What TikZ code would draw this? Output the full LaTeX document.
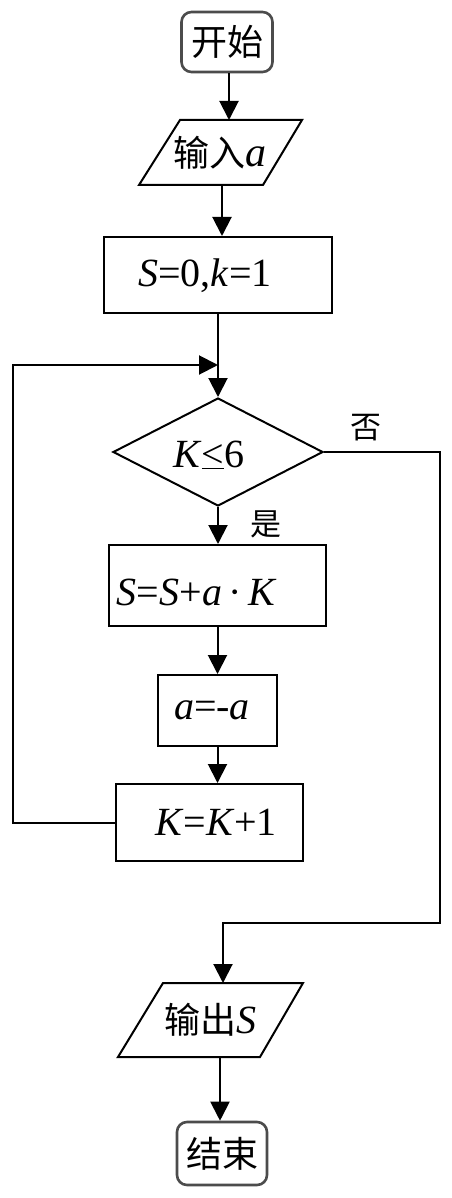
\documentclass[tikz,border=0pt]{standalone}
\usepackage{fontspec}
\setmainfont{Liberation Serif}
\newfontfamily\cjk{Noto Sans CJK SC}
\newcommand\myvar[1]{{\rmfamily\itshape #1}}
\usetikzlibrary{arrows.meta,shapes.geometric}
\begin{document}
\begin{tikzpicture}[x=1pt,y=-1pt,
  line width=2pt,
  arr/.style={-{Triangle[width=19pt,length=19pt]}},
  box/.style={draw, rectangle, inner sep=0pt},
  term/.style={draw=black!70, line width=2.6pt, rounded corners=10pt, rectangle, inner sep=0pt},
  txt/.style={inner sep=0pt, font=\fontsize{40}{44}\selectfont},
  cjktxt/.style={inner sep=0pt, font=\cjk\fontsize{36}{40}\selectfont},
  lbl/.style={inner sep=0pt, font=\cjk\fontsize{31}{34}\selectfont}]
\useasboundingbox (0,0) rectangle (451,1198);
\fill[white] (0,0) rectangle (451,1198);

% start
\node[term, minimum width=91pt, minimum height=60pt] (start) at (227,42) {};
\node[cjktxt] (starttxt) at (start.center) {开始};

% input parallelogram
\coordinate (inTL) at (180,120);
\coordinate (inTR) at (302,120);
\coordinate (inBR) at (263,185);
\coordinate (inBL) at (139,185);
\draw (inTL) -- (inTR) -- (inBR) -- (inBL) -- cycle;
\node[cjktxt] (intxt) at (220,153) {输入\myvar{\fontsize{42}{44}\selectfont a}};

% S=0,k=1
\node[box, minimum width=228pt, minimum height=76pt] (init) at (218,275) {};
\node[txt] (inittxt) at (205,276) {\textit{S}=0,\textit{k}=1};

% decision
\node[draw, diamond, inner sep=0pt, minimum width=210pt, minimum height=108pt] (dec) at (218,452) {};
\node[txt] (dectxt) at (209,455) {\textit{K}\underline{<}6};

% S=S+a·K
\node[box, minimum width=217pt, minimum height=81pt] (upd) at (217.5,585.5) {};
\node[txt] (updtxt) at (197,592) {\textit{S}=\textit{S}+\textit{a}\,·\,\textit{K}};

% a=-a
\node[box, minimum width=119pt, minimum height=71pt] (neg) at (217.5,710.5) {};
\node[txt] (negtxt) at (212,710) {\textit{a}=-\textit{a}};

% K=K+1
\node[box, minimum width=187pt, minimum height=77pt] (inc) at (209.5,822.5) {};
\node[txt] (inctxt) at (216,822) {\textit{K}=\textit{K}+1};

% output parallelogram
\coordinate (outTL) at (163,983);
\coordinate (outTR) at (303,983);
\coordinate (outBR) at (260,1057);
\coordinate (outBL) at (118,1057);
\draw (outTL) -- (outTR) -- (outBR) -- (outBL) -- cycle;
\node[cjktxt] (outtxt) at (210,1020) {输出\myvar{\fontsize{40}{44}\selectfont S}};

% end
\node[term, minimum width=90pt, minimum height=63pt] (stop) at (222,1153.5) {};
\node[cjktxt] (stoptxt) at (stop.center) {结束};

% connectors
\coordinate (a1) at (229,120);
\draw[arr] (start.south -| a1) -- (a1);
\coordinate (a2s) at (222,185);
\draw[arr] (a2s) -- (a2s |- init.north);
\draw[arr] (init.south -| dec.north) -- (dec.north);
\coordinate (loopL) at (13,365);
\coordinate (loopR) at (218,365);
\draw[arr] (inc.west) -| (loopL) -- (loopR);
\draw[arr] (dec.south) -- (dec.south |- upd.north);
\draw[arr] (upd.south) -- (neg.north);
\draw[arr] (neg.south) -- (neg.south |- inc.north);
\coordinate (noR) at (440,923);
\coordinate (outIn) at (223,983);
\draw[arr] (dec.east) -| (noR) -| (outIn);
\coordinate (a3s) at (220,1057);
\draw[arr] (a3s) -- (a3s |- stop.north);

% labels
\node[lbl] (yes) at (266,524) {是};
\node[lbl] (no) at (366,428) {否};
\end{tikzpicture}
\end{document}
